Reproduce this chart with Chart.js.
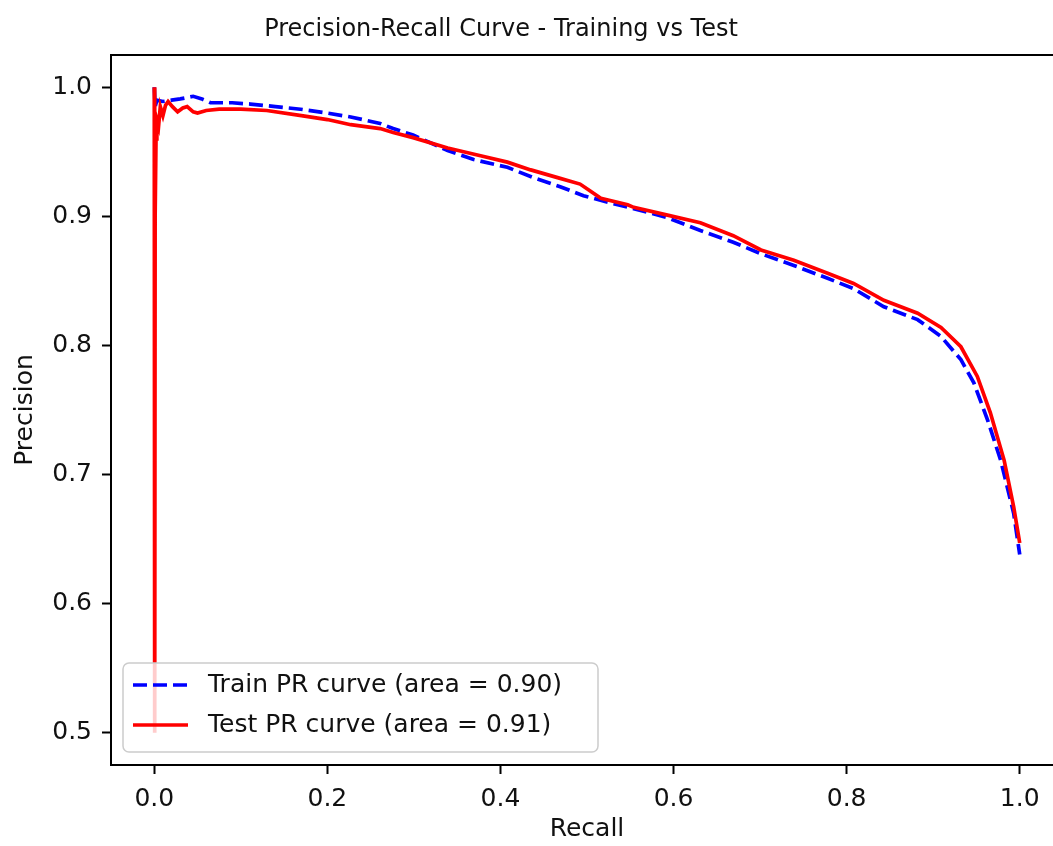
<!DOCTYPE html>
<html lang="en">
<head>
    <meta charset="UTF-8">
    <title>Precision-Recall Curve - Training vs Test</title>
    <script src="https://cdn.jsdelivr.net/npm/chart.js"></script>
    <style>
        html, body {
            margin: 0;
            padding: 0;
            background: #fff;
            overflow: hidden;
        }
        .frame {
            width: 1053px;
            height: 846px;
            overflow: hidden;
        }
        #pr-chart {
            display: block;
        }
    </style>
</head>
<body>
    <div class="frame">
        <canvas id="pr-chart" width="1100" height="846"></canvas>
    </div>

    <script>
        const chartTitle = 'Precision-Recall Curve - Training vs Test';
        const xLabel = 'Recall';
        const yLabel = 'Precision';
        const xTicks = [0.0, 0.2, 0.4, 0.6, 0.8, 1.0];
        const yTicks = [0.5, 0.6, 0.7, 0.8, 0.9, 1.0];

        const trainLabel = 'Train PR curve (area = 0.90)';
        const trainRecall = [0, 0.001, 0.003, 0.01, 0.02, 0.03, 0.045, 0.055, 0.065, 0.09, 0.111, 0.14, 0.169, 0.2, 0.227, 0.261, 0.276, 0.299, 0.339, 0.369, 0.408, 0.438, 0.469, 0.496, 0.524, 0.554, 0.593, 0.631, 0.669, 0.701, 0.739, 0.778, 0.808, 0.843, 0.882, 0.909, 0.932, 0.947, 0.963, 0.978, 0.993, 1.0];
        const trainPrecision = [1.0, 0.985, 0.99, 0.989, 0.99, 0.991, 0.993, 0.991, 0.988, 0.988, 0.987, 0.985, 0.983, 0.98, 0.977, 0.972, 0.968, 0.963, 0.951, 0.944, 0.938, 0.930, 0.923, 0.916, 0.911, 0.906, 0.899, 0.889, 0.880, 0.871, 0.862, 0.852, 0.844, 0.830, 0.820, 0.807, 0.789, 0.771, 0.742, 0.711, 0.67, 0.638];

        const testLabel = 'Test PR curve (area = 0.91)';
        const testRecall = [0, 0.0005, 0.001, 0.002, 0.003, 0.005, 0.007, 0.01, 0.013, 0.016, 0.021, 0.027, 0.033, 0.038, 0.045, 0.05, 0.06, 0.075, 0.1, 0.13, 0.17, 0.2, 0.227, 0.261, 0.276, 0.299, 0.339, 0.377, 0.408, 0.435, 0.466, 0.492, 0.505, 0.516, 0.547, 0.554, 0.593, 0.631, 0.669, 0.701, 0.739, 0.778, 0.808, 0.843, 0.882, 0.909, 0.932, 0.951, 0.966, 0.982, 0.993, 1.0];
        const testPrecision = [1.0, 0.5, 0.9, 0.96, 0.975, 0.97, 0.985, 0.978, 0.986, 0.989, 0.985, 0.981, 0.984, 0.985, 0.981, 0.98, 0.982, 0.983, 0.983, 0.982, 0.978, 0.975, 0.971, 0.968, 0.965, 0.961, 0.953, 0.947, 0.942, 0.936, 0.930, 0.925, 0.919, 0.914, 0.909, 0.907, 0.901, 0.895, 0.885, 0.874, 0.866, 0.856, 0.848, 0.835, 0.825, 0.814, 0.799, 0.776, 0.748, 0.711, 0.675, 0.647];

        const toPoints = (xs, ys) => xs.map((x, i) => ({ x: x, y: ys[i] }));
        const font = 'DejaVu Sans';
        const textColor = '#111';

        // title, top spine and the legend box are drawn by hand
        const extras = {
            id: 'extras',
            afterDraw(chart) {
                const ctx = chart.ctx;
                const area = chart.chartArea;
                ctx.save();

                ctx.strokeStyle = '#000';
                ctx.lineWidth = 2;
                ctx.beginPath();
                ctx.moveTo(area.left, area.top);
                ctx.lineTo(area.right, area.top);
                ctx.stroke();

                ctx.fillStyle = textColor;
                ctx.font = '24px "' + font + '"';
                ctx.textAlign = 'center';
                ctx.textBaseline = 'alphabetic';
                ctx.fillText(chartTitle, 501, 36);

                ctx.fillStyle = 'rgba(255,255,255,0.8)';
                ctx.strokeStyle = '#cccccc';
                ctx.lineWidth = 1.5;
                ctx.beginPath();
                ctx.roundRect(123, 663, 475, 89, 6);
                ctx.fill();
                ctx.stroke();

                const rows = [685, 725];
                chart.data.datasets.forEach((ds, i) => {
                    const y = rows[i];
                    ctx.strokeStyle = ds.borderColor;
                    ctx.lineWidth = ds.borderWidth;
                    ctx.setLineDash(ds.borderDash || []);
                    ctx.beginPath();
                    ctx.moveTo(133, y);
                    ctx.lineTo(188, y);
                    ctx.stroke();
                    ctx.setLineDash([]);
                    ctx.fillStyle = textColor;
                    ctx.font = '25px "' + font + '"';
                    ctx.textAlign = 'left';
                    ctx.textBaseline = 'middle';
                    ctx.fillText(ds.label, 208, y);
                });
                ctx.restore();
            }
        };

        const ctx = document.getElementById('pr-chart').getContext('2d');
        new Chart(ctx, {
            type: 'scatter',
            data: {
                datasets: [{
                    label: trainLabel,
                    data: toPoints(trainRecall, trainPrecision),
                    showLine: true,
                    borderColor: '#0000ff',
                    borderWidth: 3.7,
                    borderDash: [14, 6],
                    pointRadius: 0,
                    order: 2
                }, {
                    label: testLabel,
                    data: toPoints(testRecall, testPrecision),
                    showLine: true,
                    borderColor: '#ff0000',
                    borderWidth: 3.7,
                    pointRadius: 0,
                    order: 1
                }]
            },
            options: {
                responsive: false,
                animation: false,
                layout: {
                    // the plot runs past the right edge of the picture
                    padding: { top: 55, right: 37, left: 0, bottom: 0 }
                },
                plugins: {
                    legend: { display: false },
                    title: { display: false },
                    tooltip: { enabled: false }
                },
                scales: {
                    x: {
                        type: 'linear',
                        min: -0.05,
                        max: 1.05,
                        afterFit: (scale) => { scale.height = 81; },
                        afterBuildTicks: (scale) => { scale.ticks = xTicks.map(v => ({ value: v })); },
                        border: { display: true, color: '#000', width: 2 },
                        grid: { drawOnChartArea: false, drawTicks: true, tickLength: 9, tickWidth: 2, tickColor: '#000' },
                        ticks: {
                            color: textColor,
                            padding: 10,
                            font: { family: font, size: 25 },
                            callback: (v) => v.toFixed(1)
                        },
                        title: {
                            display: true,
                            text: xLabel,
                            color: textColor,
                            font: { family: font, size: 25 },
                            padding: { top: 0, bottom: 2 }
                        }
                    },
                    y: {
                        type: 'linear',
                        min: 0.475,
                        max: 1.025,
                        afterFit: (scale) => { scale.width = 111; },
                        afterBuildTicks: (scale) => { scale.ticks = yTicks.map(v => ({ value: v })); },
                        border: { display: true, color: '#000', width: 2 },
                        grid: { drawOnChartArea: false, drawTicks: true, tickLength: 9, tickWidth: 2, tickColor: '#000' },
                        ticks: {
                            color: textColor,
                            padding: 10,
                            font: { family: font, size: 25 },
                            callback: (v) => v.toFixed(1)
                        },
                        title: {
                            display: true,
                            text: yLabel,
                            color: textColor,
                            font: { family: font, size: 25 },
                            padding: { top: 10, bottom: 0 }
                        }
                    }
                }
            },
            plugins: [extras]
        });
    </script>
</body>
</html>
